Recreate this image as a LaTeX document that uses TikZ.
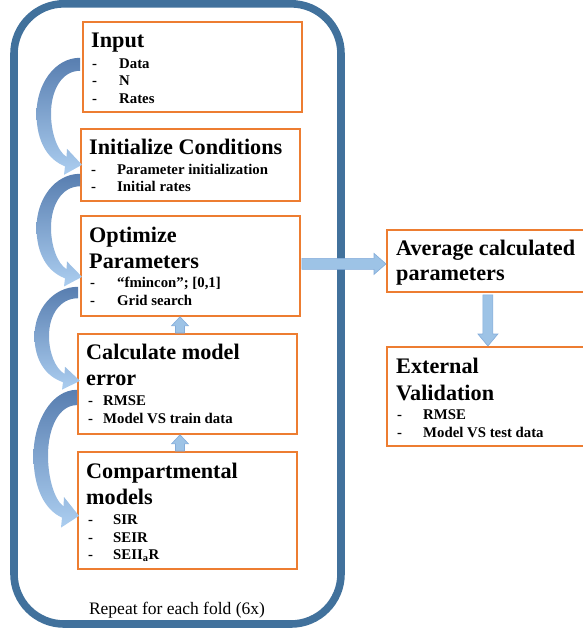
\documentclass[tikz,border=0pt]{standalone}
\usepackage{fontspec}
\setmainfont{Liberation Serif}
\usetikzlibrary{calc}

\definecolor{frameblue}{RGB}{65,113,156}
\definecolor{boxorange}{RGB}{237,125,49}
\definecolor{arrowfill}{RGB}{157,195,230}
\definecolor{arrowedge}{RGB}{132,172,218}
\definecolor{bendtop}{RGB}{88,126,176}
\definecolor{bendbottom}{RGB}{172,206,240}

% straight block arrow from #1 to #2: half shaft #3, half head #4, head length #5
\newcommand\blockarrow[5]{%
  \coordinate (ba-base) at ($(#2)!#5!(#1)$);
  \filldraw[blockarrow] ($(#1)!#3!90:(#2)$) -- ($(ba-base)!#3!90:(#2)$)
    -- ($(ba-base)!#4!90:(#2)$) -- (#2) -- ($(ba-base)!#4!-90:(#2)$)
    -- ($(ba-base)!#3!-90:(#2)$) -- ($(#1)!#3!-90:(#2)$) -- cycle;}

% curved feedback arrow on the left of the boxes: start point #1, vertical scale #2
\newcommand\bendarrow[2]{%
  \begin{scope}[shift={#1}, yscale=#2]
    \shade[bendarrow] (0,0) .. controls (-25,0) and (-43.5,26) .. (-43.5,56)
      .. controls (-43.5,84) and (-32,102) .. (-15,108.5)
      -- (-16,117) -- (2,107) -- (-13,91) -- (-13.5,99)
      .. controls (-23,93) and (-29,74) .. (-29,56)
      .. controls (-29,32) and (-18,13) .. (0,13) -- cycle;
  \end{scope}}

% one bullet line: node name, dash x, text x, baseline y, text
\newcommand\bline[5]{%
  \node[bul] (#1-dash) at (#2,#4) {-};
  \node[bul] (#1) at (#3,#4) {#5};}

\begin{document}
\begin{tikzpicture}[x=1pt, y=-1pt,
  box/.style={draw=boxorange, line width=1.8pt, inner sep=0pt, anchor=north west},
  ttl/.style={anchor=base west, inner sep=0pt, font=\fontsize{22.2}{26}\selectfont\bfseries},
  bul/.style={anchor=base west, inner sep=0pt, font=\fontsize{14.8}{18}\selectfont\bfseries},
  blockarrow/.style={fill=arrowfill, draw=arrowedge, line width=0.6pt},
  bendarrow/.style={top color=bendtop, bottom color=bendbottom},
  frame/.style={draw=frameblue, line width=7.6pt, rounded corners=50pt}]

\useasboundingbox (0,0) rectangle (582,634);

% process boxes
\node[box, minimum width=219pt, minimum height=90pt]  (input) at (82,21)  {};
\node[box, minimum width=219pt, minimum height=72pt]  (init)  at (80,128) {};
\node[box, minimum width=219pt, minimum height=100pt] (opt)   at (80,215) {};
\node[box, minimum width=219pt, minimum height=100pt] (calc)  at (77,333) {};
\node[box, minimum width=219pt, minimum height=117pt] (comp)  at (77,451) {};
\node[box, minimum width=220pt, minimum height=62pt]  (avg)   at (386,229) {};
\node[box, minimum width=220pt, minimum height=99pt]  (ext)   at (386,346) {};

% box texts
\node[ttl] (input-t) at (91,48) {Input};
\bline{data}{92}{119}{68}{Data}
\bline{n}{92}{119}{85.5}{N}
\bline{rates}{92}{119}{103}{Rates}

\node[ttl] (init-t) at (89,154) {Initialize Conditions};
\bline{pinit}{91}{117}{174}{Parameter initialization}
\bline{irates}{91}{117}{191}{Initial rates}

\node[ttl] (opt-t1) at (89,242) {Optimize};
\node[ttl] (opt-t2) at (89,268) {Parameters};
\bline{fmin}{90}{117}{287}{“fmincon”; [0,1]}
\bline{grid}{90}{117}{305}{Grid search}

\node[ttl] (calc-t1) at (86,359) {Calculate model};
\node[ttl] (calc-t2) at (86,385) {error};
\bline{rmse1}{88}{103}{405}{RMSE}
\bline{train}{88}{103}{423}{Model VS train data}

\node[ttl] (comp-t1) at (86,478) {Compartmental};
\node[ttl] (comp-t2) at (86,504) {models};
\bline{sir}{88}{113}{524}{SIR}
\bline{seir}{88}{113}{542}{SEIR}
\bline{seiiar}{88}{113}{559}{SEII\textsubscript{a}R}

\node[ttl] (avg-t1) at (396,255) {Average calculated};
\node[ttl] (avg-t2) at (396,280) {parameters};

\node[ttl] (ext-t1) at (396,373) {External};
\node[ttl] (ext-t2) at (396,400) {Validation};
\bline{rmse2}{397}{423}{419}{RMSE}
\bline{test}{397}{423}{437}{Model VS test data}

% curved arrows between consecutive steps
\bendarrow{($(input.south west)+(-2,-55)$)}{1}
\bendarrow{($(init.south west)+(0,-28)$)}{0.963}
\bendarrow{($(opt.south west)+(-2,-30)$)}{0.879}
\bendarrow{($(calc.south west)+(0,-45)$)}{1.178}

% loop frame
\draw[frame] (14,3.8) rectangle (341,624);
\node[anchor=base, inner sep=0pt, font=\fontsize{17.5}{20}\selectfont] (repeat) at (177,614) {Repeat for each fold (6x)};

% straight arrows
\coordinate (ux) at (180,0);
\coordinate (u1a) at (calc.north -| ux);
\coordinate (u1b) at (opt.south -| ux);
\blockarrow{u1a}{u1b}{4.5pt}{8.5pt}{9pt}
\coordinate (u2a) at (comp.north -| ux);
\coordinate (u2b) at (calc.south -| ux);
\blockarrow{u2a}{u2b}{4.5pt}{8.5pt}{9pt}

\coordinate (ra) at ($(opt.east)+(1,-2)$);
\coordinate (rb) at (avg.west |- ra);
\blockarrow{ra}{rb}{5.5pt}{10.5pt}{12pt}

\coordinate (da) at ($(avg.south)+(-9,2)$);
\coordinate (db) at (ext.north -| da);
\blockarrow{da}{db}{5pt}{10pt}{12pt}

\end{tikzpicture}
\end{document}
